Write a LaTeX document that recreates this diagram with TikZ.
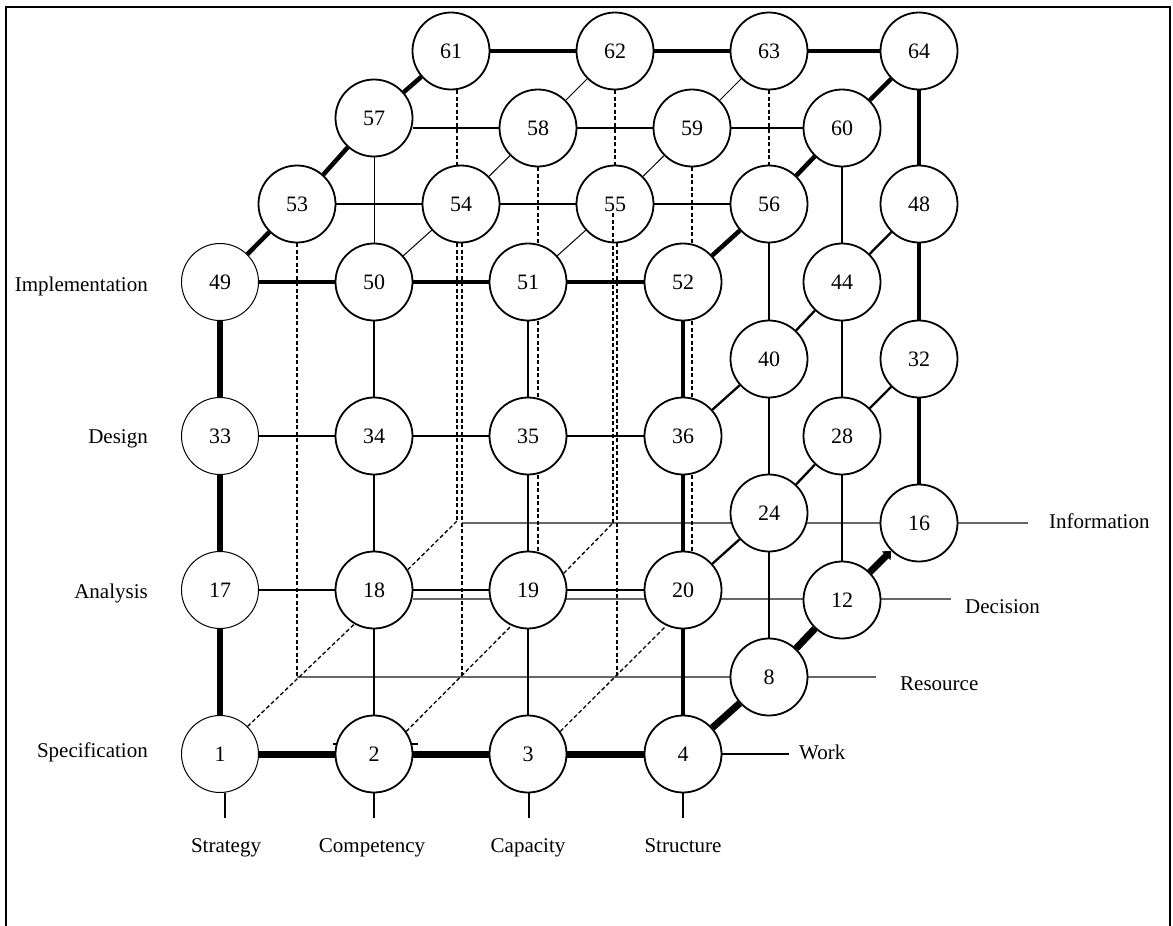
\documentclass[tikz,border=0pt]{standalone}
\usepackage{fontspec}
\setmainfont{Liberation Serif}
\usetikzlibrary{arrows.meta,calc}
\pgfdeclarelayer{bg}
\pgfsetlayers{bg,main}
\begin{document}
\begin{tikzpicture}[x=1pt,y=-1pt,
  nd/.style={circle,draw,fill=white,line width=1.8pt,minimum size=77pt,inner sep=0pt,font=\fontsize{22}{26}\selectfont},
  ndl/.style={nd,line width=1pt},
  lbl/.style={inner sep=0pt,font=\fontsize{21}{25}\selectfont},
  xthick/.style={line width=7pt},
  vthick/.style={line width=5.5pt},
  thk/.style={line width=4.5pt},
  med/.style={line width=2.3pt},
  thn/.style={line width=1pt},
  dsh/.style={line width=1.3pt,dash pattern=on 4pt off 2.5pt},
  gl/.style={line width=1.4pt,draw=black!60},
]
\useasboundingbox (0,0) rectangle (1173,926);
% frame
\draw[line width=2.2pt] (6,926) -- (6,7) -- (1170,7) -- (1170,926);

% nodes
\node[ndl] (n1) at (220,754) {1};
\node[nd] (n2) at (374,754) {2};
\node[nd] (n3) at (528,754) {3};
\node[nd] (n4) at (683,754) {4};
\node[nd] (n8) at (769,677) {8};
\node[nd] (n12) at (842,600) {12};
\node[nd] (n16) at (919,523) {16};
\node[ndl] (n17) at (220,590) {17};
\node[nd] (n18) at (374,590) {18};
\node[nd] (n19) at (528,590) {19};
\node[nd] (n20) at (683,590) {20};
\node[nd] (n24) at (769,513) {24};
\node[nd] (n28) at (842,436) {28};
\node[nd] (n32) at (919,359) {32};
\node[ndl] (n33) at (220,436) {33};
\node[nd] (n34) at (374,436) {34};
\node[nd] (n35) at (528,436) {35};
\node[nd] (n36) at (683,436) {36};
\node[nd] (n40) at (769,359) {40};
\node[nd] (n44) at (842,282) {44};
\node[nd] (n48) at (919,204) {48};
\node[ndl] (n49) at (220,282) {49};
\node[nd] (n50) at (374,282) {50};
\node[nd] (n51) at (528,282) {51};
\node[nd] (n52) at (683,282) {52};
\node[nd] (n53) at (297,204) {53};
\node[nd] (n54) at (461,204) {54};
\node[nd] (n55) at (615,204) {55};
\node[nd] (n56) at (769,204) {56};
\node[nd] (n57) at (374,118) {57};
\node[nd] (n58) at (538,128) {58};
\node[nd] (n59) at (692,128) {59};
\node[nd] (n60) at (842,128) {60};
\node[nd] (n61) at (451,51) {61};
\node[nd] (n62) at (615,51) {62};
\node[nd] (n63) at (769,51) {63};
\node[nd] (n64) at (919,51) {64};

% free ends
\coordinate (r0) at (297,677);
\coordinate (r1) at (462,677);
\coordinate (r2) at (617,677);
\coordinate (rEnd) at (876,677);
\coordinate (i1) at (457,521);
\coordinate (i2) at (613,523);
\coordinate (iStart) at (462,523);
\coordinate (iEnd) at (1028,523);
\coordinate (dStart) at (413,599);
\coordinate (dEnd) at (951,599);
\coordinate (wEnd) at (789,754);
\coordinate (c55) at (613,213);

% labels
\node[lbl,anchor=base east] (lImp) at (148,291) {Implementation};
\node[lbl,anchor=base east] (lDes) at (148,443) {Design};
\node[lbl,anchor=base east] (lAna) at (148,598) {Analysis};
\node[lbl,anchor=base east] (lSpe) at (148,757) {Specification};
\node[lbl,anchor=base] (lStr) at (226,852) {Strategy};
\node[lbl,anchor=base] (lCom) at (372,852) {Competency};
\node[lbl,anchor=base] (lCap) at (528,852) {Capacity};
\node[lbl,anchor=base] (lStu) at (683,852) {Structure};
\node[lbl,anchor=base west] (lInf) at (1049,528) {Information};
\node[lbl,anchor=base west] (lDec) at (965,613) {Decision};
\node[lbl,anchor=base west] (lRes) at (900,690) {Resource};
\node[lbl,anchor=base west] (lWor) at (799,759) {Work};

\begin{pgfonlayer}{bg}
% plane lines
\draw[gl] (iStart) -- (iEnd);
\draw[gl] (dStart) -- (dEnd);
\draw[gl] (r0) -- (rEnd);
\draw[line width=1.3pt] (n4.east) -- (wEnd);
% ticks below
\draw[line width=1.3pt] ([xshift=5pt]n1.south) -- ++(0,25);
\draw[line width=1.3pt] (n2.south) -- ++(0,25);
\draw[line width=1.3pt] ([xshift=1pt]n3.south) -- ++(0,25);
\draw[line width=1.3pt] (n4.south) -- ++(0,25);
% small marks near 2
\draw[line width=1.3pt] (333,744) -- (341,744) (409,744) -- (418,744);

% hidden (dashed) edges
\draw[dsh] ([xshift=6pt]n61.south) -- ([xshift=-4pt]n54.north);
\draw[dsh] (n62.south) -- (n55.north);
\draw[dsh] (n63.south) -- (n56.north);
\draw[dsh] (n58.south) -- ([xshift=10pt]n51.north);
\draw[dsh] (n59.south) -- ([xshift=9pt]n52.north);
\draw[dsh] ([xshift=10pt]n51.south) -- ([xshift=10pt]n35.north);
\draw[dsh] ([xshift=10pt]n35.south) -- ([xshift=10pt]n19.north);
\draw[dsh] ([xshift=9pt]n52.south) -- ([xshift=9pt]n36.north);
\draw[dsh] ([xshift=9pt]n36.south) -- ([xshift=9pt]n20.north);
\draw[dsh] (n53.south) -- (r0);
\draw[dsh] ([xshift=-4pt]n54.south) -- (i1);
\draw[dsh] ([xshift=1pt]n54.south) -- (r1);
\draw[dsh] ([xshift=2pt]n55.south) -- (r2);
\draw[dsh] (n1.45) -- (n18.240);
\draw[dsh] (n2.35) -- (n19.245);
\draw[dsh] (n3.35) -- (n20.245);
\draw[dsh] (n18.31) -- (i1);
\draw[dsh] (n19.25) -- (i2);

% front face
\draw[xthick] (n1) -- (n2) (n2) -- (n3) (n3) -- (n4);
\draw[vthick] (n49) -- (n33) (n33) -- (n17) (n17) -- (n1);
\draw[thk] (n49) -- (n50) (n50) -- (n51) (n51) -- (n52);
\draw[thk] (n52) -- (n36) (n36) -- (n20) (n20) -- (n4);
\draw[med] (n50) -- (n34) (n34) -- (n18) (n18) -- (n2);
\draw[line width=2.8pt] (n51) -- (n35) (n35) -- (n19);
\draw[med] (n19) -- (n3);
\draw[med] (n33) -- (n34) (n34) -- (n35) (n35) -- (n36);
\draw[med] (n17) -- (n18) (n18) -- (n19) (n19) -- (n20);

% right face
\draw[xthick] (n4) -- (n8) (n8) -- (n12);
\draw[xthick,-{Triangle[length=7pt,width=12pt]}] (n12) -- (n16);
\draw[med] (n20) -- (n24) (n24) -- (n28) (n28) -- (n32);
\draw[med] (n36) -- (n40) (n40) -- (n44) (n44) -- (n48);
\draw[med] (n8) -- (n24) (n24) -- (n40) (n40) -- (n56);
\draw[med] (n12) -- (n28) (n28) -- (n44) (n44) -- (n60);
\draw[thk] (n52) -- (n56) (n56) -- (n60) (n60) -- (n64);
\draw[thk] (n16) -- (n32) (n32) -- (n48) (n48) -- (n64);

% top face
\draw[thk] (n61) -- (n62) (n62) -- (n63) (n63) -- (n64);
\draw[thk] (n49) -- (n53) (n53) -- (n57) (n57) -- (n61);
\draw[med] (n53) -- (n54) (n54) -- (n55) (n55) -- (n56);
\draw[med] (n58.west -| n57.east) -- (n58.west);
\draw[med] (n58) -- (n59) (n59) -- (n60);
\draw[thn] (n50) -- (n54) (n54) -- (n58) (n58) -- (n62);
\draw[thn] (n51) -- (n55) (n55) -- (n59) (n59) -- (n63);
\draw[thn] (n57) -- (n50);
\end{pgfonlayer}

% dashed line drawn over node 55
\draw[dsh] (c55) -- (i2);
\end{tikzpicture}
\end{document}
